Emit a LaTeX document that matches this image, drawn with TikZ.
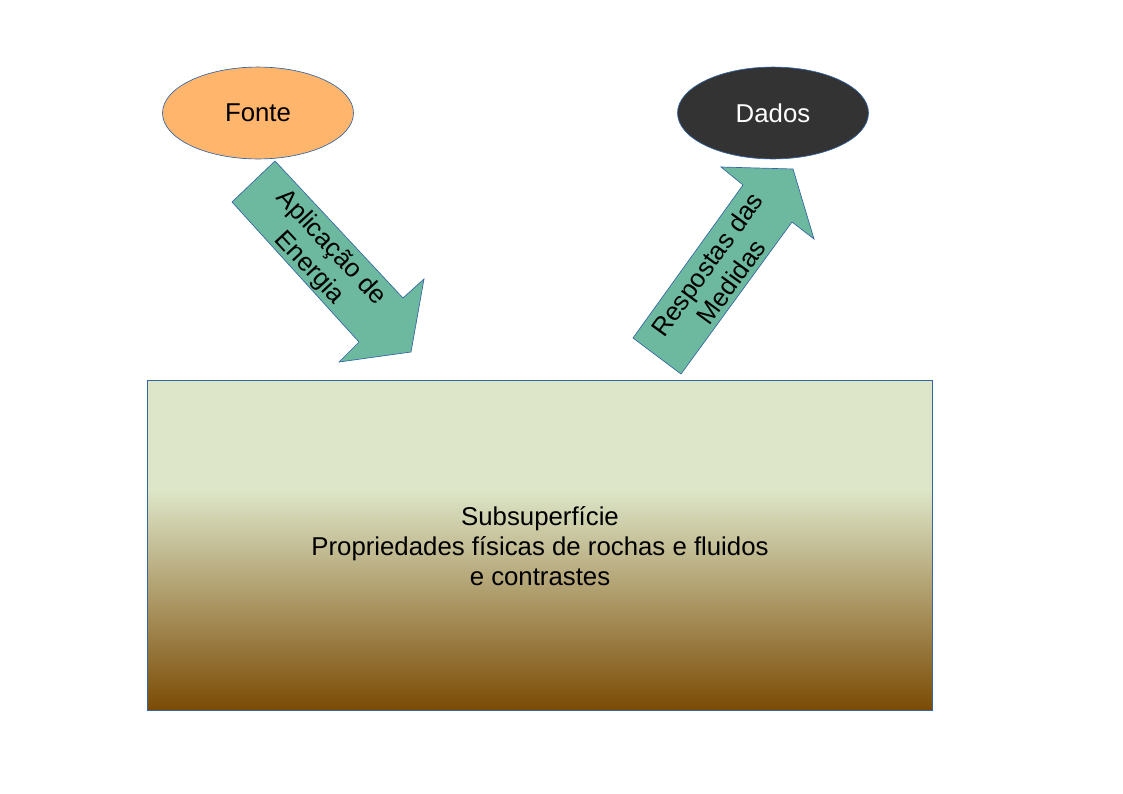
\documentclass[tikz,border=0pt]{standalone}
\usepackage{fontspec}
\setmainfont{Liberation Sans}
\usepackage{tikz}
\usetikzlibrary{shapes.geometric}
\definecolor{linkblue}{HTML}{3465A4}
\definecolor{fonteorange}{HTML}{FFB66C}
\definecolor{dadosdark}{HTML}{333333}
\definecolor{arrowgreen}{HTML}{6DB9A0}
\definecolor{soilgreen}{HTML}{DDE6C8}
\definecolor{soilbrown}{HTML}{7B4B05}

\begin{document}
\begin{tikzpicture}[x=0.02645cm,y=-0.02645cm,
    bubble/.style={ellipse,draw=linkblue,line width=0.5pt,minimum width=5.05cm,minimum height=2.43cm,inner sep=0pt,font=\fontsize{19.4}{22.3}\selectfont},
    arrowtext/.style={align=center,font=\fontsize{19.4}{22.3}\selectfont}]
    \useasboundingbox (0,0) rectangle (1123,794);
    % subsurface block
    \fill[soilgreen] (147,380) rectangle (932,490);
    \shade[top color=soilgreen,bottom color=soilbrown] (147,490) rectangle (932,710);
    \draw[linkblue,line width=0.6pt] (147,380) rectangle (932,710);
    \node[align=center,font=\fontsize{19.4}{22.3}\selectfont] (sub) at (540,546)
      {Subsuperfície\\Propriedades físicas de rochas e fluidos\\e contrastes};
    % source and data
    \node[bubble,fill=fonteorange] (fonte) at (258,113) {Fonte};
    \node[bubble,fill=dadosdark,text=white] (dados) at (773,113) {Dados};
    % block arrows
    \filldraw[fill=arrowgreen,draw=linkblue,line width=0.5pt]
      (275,161) -- (403,298) -- (424,279) -- (411,352) -- (339,362) -- (359,342) -- (232,202) -- cycle;
    \node[arrowtext,rotate=-47] (energia) at (320,258) {Aplicação de\\Energia};
    \filldraw[fill=arrowgreen,draw=linkblue,line width=0.5pt]
      (681,374) -- (792,222) -- (814,239) -- (793,169) -- (721,167) -- (743,185) -- (633,338) -- cycle;
    \node[arrowtext,rotate=54] (respostas) at (719,273) {Respostas das\\Medidas};
\end{tikzpicture}
\end{document}
